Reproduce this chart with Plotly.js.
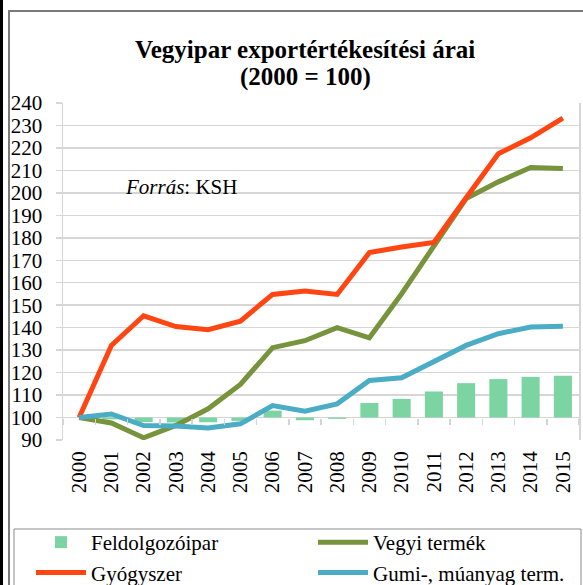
<!DOCTYPE html>
<html>
<head>
<meta charset="utf-8">
<script src="https://cdn.plot.ly/plotly-3.0.1.min.js"></script>
<style>
  body { margin: 0; padding: 0; background: #fff; }
  #wrap { position: relative; width: 583px; height: 585px; overflow: hidden; }
  #chart { position: absolute; left: 0; top: 0; width: 583px; height: 585px; }
  .blk { position: absolute; left: 0; top: 0; width: 3px; height: 585px; background: #000; pointer-events: none; }
  .frm { position: absolute; left: 8px; top: 10px; width: 600px; height: 600px; border-top: 2px solid #7a7a7a; border-left: 2px solid #7a7a7a; pointer-events: none; }
</style>
</head>
<body>
<div id="wrap">
  <div id="chart"></div>
  <div class="blk"></div>
  <div class="frm"></div>
</div>
<script>
const years = ["2000","2001","2002","2003","2004","2005","2006","2007","2008","2009","2010","2011","2012","2013","2014","2015"];
const feldolgozoipar = [100, 99.2, 98.0, 97.8, 97.9, 98.5, 103.1, 98.8, 99.4, 106.5, 108.3, 111.6, 115.3, 117.1, 118.1, 118.6];
const vegyiTermek   = [100, 97.6, 91.0, 96.5, 103.9, 114.7, 131.1, 134.2, 140.0, 135.5, 155.1, 175.9, 197.5, 204.9, 211.3, 210.8];
const gyogyszer     = [100, 132.1, 145.3, 140.5, 139.1, 142.9, 154.8, 156.3, 154.8, 173.4, 175.9, 177.9, 197.8, 217.4, 224.5, 233.3];
const gumiMuanyag   = [100, 101.6, 96.4, 96.2, 95.3, 97.2, 105.3, 102.8, 106.1, 116.5, 117.7, 124.7, 132.1, 137.3, 140.3, 140.6];
const baseValue = 100;
const titleLines = ["Vegyipar exportértékesítési árai", "(2000 = 100)"];

const font = "Liberation Serif, DejaVu Serif, serif";

// plot area in pixels: x 63..579, y 103..440
const px = X => (X - 63) / 516;
const py = Y => (440 - Y) / 337;

const traces = [
  {
    type: "bar", name: "Feldolgozóipar", x: years,
    y: feldolgozoipar.map(v => v - baseValue), base: baseValue,
    marker: { color: "#7dd4a3" }, width: 0.56,
    xaxis: "x", yaxis: "y", legend: "legend"
  },
  {
    type: "scatter", mode: "lines", name: "Vegyi termék", x: years, y: vegyiTermek,
    line: { color: "#77933c", width: 5 }, xaxis: "x2", yaxis: "y", legend: "legend2"
  },
  {
    type: "scatter", mode: "lines", name: "Gyógyszer", x: years, y: gyogyszer,
    line: { color: "#ff4612", width: 5 }, xaxis: "x2", yaxis: "y", legend: "legend"
  },
  {
    type: "scatter", mode: "lines", name: "Gumi-, múanyag term.", x: years, y: gumiMuanyag,
    line: { color: "#4bacc6", width: 5 }, xaxis: "x2", yaxis: "y", legend: "legend2"
  }
];

const legendBase = {
  orientation: "v", xref: "paper", yref: "paper",
  xanchor: "left", yanchor: "top", y: py(522),
  borderwidth: 0, bgcolor: "rgba(0,0,0,0)",
  font: { family: font, size: 21, color: "#000" },
  itemwidth: 50, tracegroupgap: 0, traceorder: "normal"
};

const layout = {
  width: 583, height: 585,
  margin: { l: 63, r: 4, t: 103, b: 145, autoexpand: false },
  paper_bgcolor: "rgba(0,0,0,0)",
  plot_bgcolor: "#fff",
  font: { family: font, size: 21, color: "#000" },
  showlegend: true,
  xaxis: {
    type: "category", categoryarray: years, range: [-0.5, 15.5],
    tickangle: -90, ticks: "", showgrid: false, zeroline: false, showline: false,
    tickfont: { family: font, size: 21, color: "#000" },
    ticklabelstandoff: 6, fixedrange: true
  },
  xaxis2: {
    type: "category", categoryarray: years, range: [-0.5, 15.5],
    overlaying: "x", anchor: "free", position: (baseValue - 90) / 150,
    showticklabels: false, ticks: "outside", tickson: "boundaries",
    ticklen: 6, tickwidth: 1.5, tickcolor: "#d4d4d4",
    showgrid: false, zeroline: false, showline: false
  },
  yaxis: {
    range: [90, 240], dtick: 10, tick0: 90,
    showgrid: true, gridcolor: "#d6d6d6", gridwidth: 1.5,
    showline: true, mirror: true, linecolor: "#d6d6d6", linewidth: 1.5,
    ticks: "outside", ticklen: 6, tickwidth: 1.5, tickcolor: "#d6d6d6",
    zeroline: false, ticklabelstandoff: 9,
    tickfont: { family: font, size: 21, color: "#000" }
  },
  legend: Object.assign({}, legendBase, { x: px(31) }),
  legend2: Object.assign({}, legendBase, { x: px(313) }),
  shapes: [
    {
      type: "rect", xref: "paper", yref: "paper",
      x0: px(14), x1: px(581), y0: py(529), y1: py(640),
      line: { color: "#8a8a8a", width: 1 }, fillcolor: "rgba(0,0,0,0)"
    }
  ],
  annotations: [
    {
      text: "<b>" + titleLines[0] + "</b>",
      xref: "paper", yref: "paper", x: px(305), y: py(49),
      xanchor: "center", yanchor: "middle", showarrow: false,
      font: { family: font, size: 25, color: "#000" }
    },
    {
      text: "<b>" + titleLines[1] + "</b>",
      xref: "paper", yref: "paper", x: px(305), y: py(77),
      xanchor: "center", yanchor: "middle", showarrow: false,
      font: { family: font, size: 25, color: "#000" }
    },
    {
      text: "<i>Forrás</i>: KSH", xref: "paper", yref: "paper",
      x: px(181), y: py(187), xanchor: "center", yanchor: "middle",
      showarrow: false, font: { family: font, size: 21, color: "#000" }
    }
  ]
};

Plotly.newPlot("chart", traces, layout, { displayModeBar: false, staticPlot: true });
</script>
</body>
</html>
